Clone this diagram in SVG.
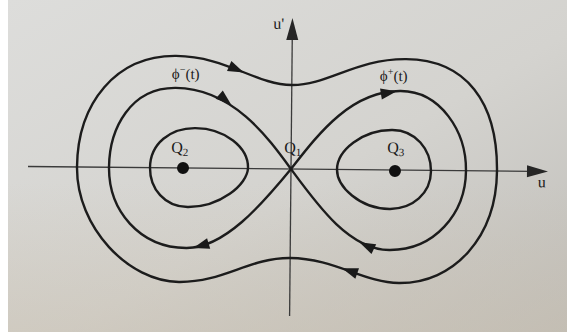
<svg xmlns="http://www.w3.org/2000/svg" xmlns:xlink="http://www.w3.org/1999/xlink" width="567" height="332" viewBox="0 0 567 332">
  <defs>
    <linearGradient id="paper" x1="0" y1="0" x2="1" y2="1">
      <stop offset="0" stop-color="#dddddb"/>
      <stop offset="0.55" stop-color="#d4d3cf"/>
      <stop offset="1" stop-color="#bfbdb8"/>
    </linearGradient>
    <linearGradient id="warm" x1="0" y1="0" x2="0" y2="1">
      <stop offset="0.55" stop-color="#c9bfae" stop-opacity="0"/>
      <stop offset="1" stop-color="#c9bfae" stop-opacity="0.45"/>
    </linearGradient>
    <path id="ah" d="M1,0 L-15,-5.5 L-15,5.5 Z"/>
    <style>
      .orbit { fill: none; stroke: #1c1c1c; stroke-width: 2.4; }
      .axis { fill: none; stroke: #3a3a3a; stroke-width: 1.3; }
      .head { fill: #1a1a1a; }
      .ahead { fill: #262626; }
      .lbl { font-family: "Liberation Serif", "Times New Roman", serif; fill: #1a1a1a; }
      .dot { fill: #111; }
    </style>
  </defs>
  <rect x="0" y="0" width="567" height="332" fill="#ffffff"/>
  <rect x="8" y="0" width="559" height="332" fill="url(#paper)"/>
  <rect x="8" y="0" width="559" height="332" fill="url(#warm)"/>

  <g transform="rotate(0.55 291 169)">
    <g id="axes">
      <line class="axis" x1="28" y1="169" x2="532" y2="169"/>
      <path class="ahead" d="M548,169 L527,163 L527,175 Z"/>
      <line class="axis" x1="291" y1="316" x2="291" y2="36"/>
      <path class="ahead" d="M291,18 L285,40 L297,40 Z"/>
      <text class="lbl" x="272" y="29" font-size="16">u'</text>
      <text class="lbl" x="538" y="185" font-size="16">u</text>
    </g>

    <g id="connectors">
      <path id="outer" class="orbit" d="M77,169 C77,105 115,57 175,57 C225,57 255,85 291,85 C327,85 355,58 405,58 C465,58 497,100 497,169 C497,235 455,282 400,282 C365,282 335,258 291,258 C250,258 225,283 180,283 C130,283 77,230 77,169 Z"/>
      <path id="sep-left" class="orbit" d="M291,169 C268,138 232,89 175,89 C130,89 109,130 109,169 C109,212 140,249 187,249 C225,249 262,205 291,169 Z"/>
      <path id="sep-right" class="orbit" d="M291,169 C317,135 350,90 400,90 C440,90 466,130 466,169 C466,212 435,249 390,249 C350,249 318,205 291,169 Z"/>
      <path id="inner-left" class="orbit" d="M150,169 C150,145 170,129 195,129 C225,129 248,148 248,168 C248,185 220,208 188,208 C165,208 150,190 150,169 Z"/>
      <path id="inner-right" class="orbit" d="M337,169 C337,150 362,129 392,129 C415,129 431,148 431,170 C431,192 413,208 390,208 C360,208 337,186 337,169 Z"/>
      <use href="#ah" xlink:href="#ah" class="head" transform="translate(242,72.5) rotate(23)"/>
      <use href="#ah" xlink:href="#ah" class="head" transform="translate(230,105) rotate(40)"/>
      <use href="#ah" xlink:href="#ah" class="head" transform="translate(395,90.5) rotate(-10)"/>
      <use href="#ah" xlink:href="#ah" class="head" transform="translate(195,248.7) rotate(163)"/>
      <use href="#ah" xlink:href="#ah" class="head" transform="translate(361,242) rotate(205)"/>
      <use href="#ah" xlink:href="#ah" class="head" transform="translate(344,268) rotate(199)"/>
      <text class="lbl" x="171" y="80" font-size="15">ϕ<tspan font-size="10" dy="-6">−</tspan><tspan dy="6">(t)</tspan></text>
      <text class="lbl" x="379" y="80" font-size="15">ϕ<tspan font-size="10" dy="-6">+</tspan><tspan dy="6">(t)</tspan></text>
    </g>

    <g id="Q1">
      <text class="lbl" x="284" y="153" font-size="16">Q<tspan font-size="11" dy="3">1</tspan></text>
    </g>
    <g id="Q2">
      <circle class="dot" cx="183" cy="169" r="6"/>
      <text class="lbl" x="171" y="154" font-size="16">Q<tspan font-size="11" dy="3">2</tspan></text>
    </g>
    <g id="Q3">
      <circle class="dot" cx="395" cy="170" r="6"/>
      <text class="lbl" x="387" y="152" font-size="16">Q<tspan font-size="11" dy="3">3</tspan></text>
    </g>
  </g>
</svg>
